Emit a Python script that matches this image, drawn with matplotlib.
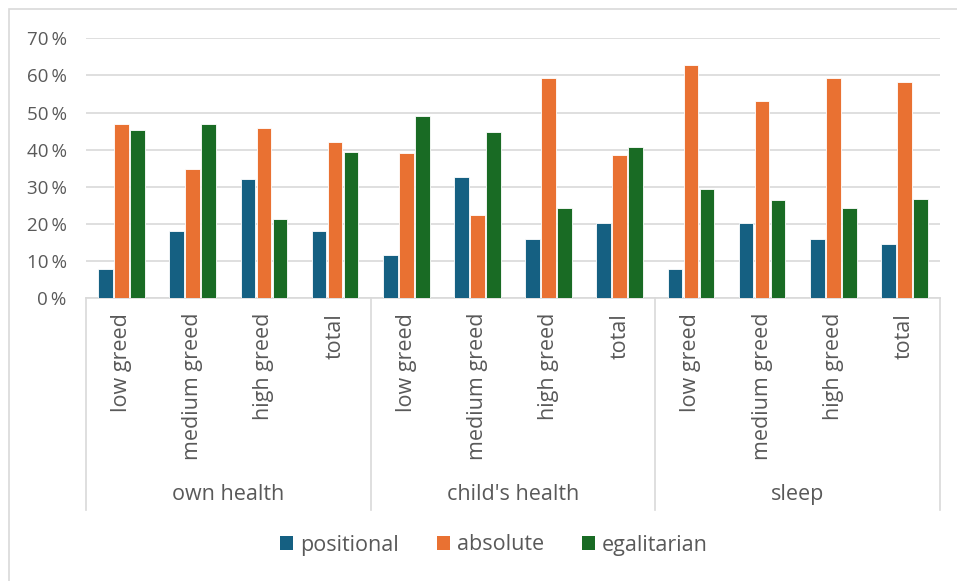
import numpy as np
import matplotlib
matplotlib.use('Agg')
import matplotlib.pyplot as plt
from matplotlib.patches import Rectangle, Patch
from matplotlib.ticker import FuncFormatter

plt.rcParams['font.family'] = ['Open Sans', 'DejaVu Sans']

groups = ['own health', "child's health", 'sleep']
levels = ['low greed', 'medium greed', 'high greed', 'total']
series = ['positional', 'absolute', 'egalitarian']

# shares in percent, 4 levels per group, groups in order
positional = [7.8, 18.1, 32.1, 18.1,
              11.7, 32.6, 16.0, 20.3,
              7.8, 20.3, 16.0, 14.5]
absolute = [46.9, 34.7, 45.8, 42.2,
            39.0, 22.4, 59.4, 38.6,
            62.7, 53.1, 59.4, 58.3]
egalitarian = [45.2, 46.9, 21.4, 39.3,
               49.0, 44.7, 24.2, 40.8,
               29.3, 26.4, 24.2, 26.8]

colors = ['#156082', '#E97132', '#196B24']
txt = '#595959'
grid = '#D9D9D9'
fs = 15.5

W, H = 957, 581
fig = plt.figure(figsize=(W / 100, H / 100), dpi=100)

# outer chart frame (only top and left edges fall inside the image)
fig.patches.append(Rectangle((9 / W, -0.1), 1.2, 1 - 9 / H + 0.1,
                             transform=fig.transFigure, fill=False,
                             edgecolor=grid, linewidth=1.2))

x0, x1 = 86, 940
y_top, y_bot = 38.3, 298.3
ax = fig.add_axes([x0 / W, 1 - y_bot / H, (x1 - x0) / W, (y_bot - y_top) / H])

n = len(groups) * len(levels)
x = np.arange(n)
bw = 0.205
for i, vals in enumerate([positional, absolute, egalitarian]):
    ax.bar(x + (i - 1) * (bw + 0.02), vals, width=bw, color=colors[i],
           edgecolor='white', linewidth=0.6, zorder=3)

ax.set_xlim(-0.5, n - 0.5)
ax.set_ylim(0, 70)
ax.set_yticks(np.arange(0, 71, 10))
ax.yaxis.set_major_formatter(FuncFormatter(lambda v, p: f'{v:.0f}\u2009%'))
ax.tick_params(axis='y', length=0, pad=14, labelsize=13.5, labelcolor=txt)
ax.set_xticks([])
ax.grid(axis='y', color=grid, linewidth=1.2, zorder=0)
for s in ['top', 'right', 'left']:
    ax.spines[s].set_visible(False)
ax.spines['bottom'].set_color(grid)
ax.spines['bottom'].set_linewidth(1.2)

# two-level category axis
tr = ax.get_xaxis_transform()
ph = y_bot - y_top
y_line = -(510 - y_bot) / ph
y_sub = -(313 - y_bot) / ph
y_grp = -(495 - y_bot) / ph
for b in np.arange(0, n + 1, len(levels)) - 0.5:
    ax.plot([b, b], [0, y_line], transform=tr, color=grid, linewidth=1.2,
            clip_on=False)
for k in range(n):
    ax.text(k, y_sub, levels[k % len(levels)], transform=tr, rotation=90,
            ha='center', va='top', fontsize=fs, color=txt)
for g, name in enumerate(groups):
    ax.text(g * len(levels) + (len(levels) - 1) / 2, y_grp, name, transform=tr,
            ha='center', va='center', fontsize=fs, color=txt)

handles = [Patch(facecolor=c, edgecolor='none') for c in colors]
fig.legend(handles, series, loc='center', bbox_to_anchor=(494 / W, 1 - 545 / H),
           ncol=3, frameon=False, fontsize=fs, labelcolor=txt,
           handlelength=0.6, handleheight=0.6, handletextpad=0.3,
           columnspacing=1.8)

fig.savefig('out.png', dpi=100)
